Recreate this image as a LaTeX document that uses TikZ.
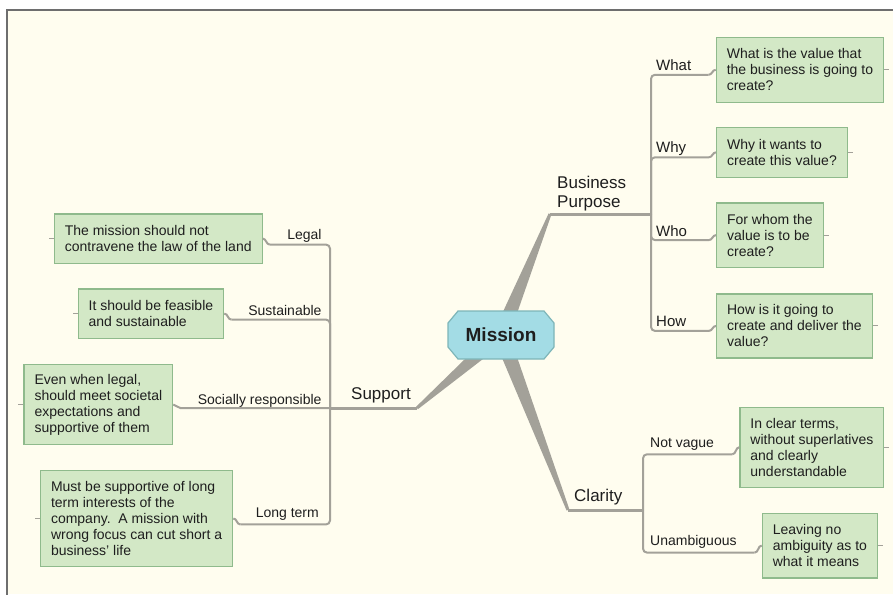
\documentclass[tikz,border=0pt]{standalone}
\usepackage{fontspec}
\setmainfont{Liberation Sans}
\usetikzlibrary{calc}
\definecolor{paper}{HTML}{FFFDEF}
\definecolor{framec}{HTML}{6E6E6E}
\definecolor{branchc}{HTML}{A3A199}
\definecolor{leaffill}{HTML}{D3E8C6}
\definecolor{leafline}{HTML}{8FBA8C}
\definecolor{corefill}{HTML}{A3DCE5}
\definecolor{coreline}{HTML}{7DB5B8}
\definecolor{ink}{HTML}{1E1E1E}
\begin{document}
\begin{tikzpicture}[x=1pt,y=-1pt,
  leaf/.style={draw=leafline, fill=leaffill, line width=1.2pt, text=ink,
    align=left, inner xsep=10.5pt, inner ysep=0pt,
    font=\fontsize{14}{16}\selectfont},
  coreshape/.style={draw=coreline, fill=corefill, line width=1.2pt},
  coretext/.style={inner sep=0pt, text=ink, font=\fontsize{19}{22}\selectfont\bfseries},
  mainlabel/.style={inner sep=0pt, text=ink, align=left,
    font=\fontsize{17}{20}\selectfont},
  sublabel/.style={inner sep=0pt, text=ink, font=\fontsize{14}{16}\selectfont},
  qlabel/.style={inner sep=0pt, text=ink, font=\fontsize{15}{17}\selectfont},
  trunk/.style={draw=branchc, line width=3pt},
  twig/.style={draw=branchc, line width=2pt, rounded corners=4pt},
  hop/.style={draw=branchc, line width=2pt},
  stub/.style={draw=branchc, line width=1pt},
  taper/.style={fill=branchc}]

\useasboundingbox (0,0) rectangle (893,594);
% canvas and frame
\fill[white] (0,0) rectangle (893,594);
\fill[paper] (7,10) rectangle (893,594);
\draw[framec, line width=1.6pt] (7,600) -- (7,10) -- (900,10);

% hub and branch ends
\coordinate (mc) at (501,335);
\coordinate (bpEnd) at (550,214);
\coordinate (bpJ) at (651,214);
\coordinate (supEnd) at (417,408);
\coordinate (supJ) at (330,408);
\coordinate (clEnd) at (568,510);
\coordinate (clJ) at (643,510);

% tapered main branches
\foreach \e in {bpEnd,supEnd,clEnd}{
  \fill[taper] ($(mc)!8pt!90:(\e)$) -- ($(\e)!1.5pt!-90:(mc)$)
    -- ($(\e)!1.5pt!90:(mc)$) -- ($(mc)!8pt!-90:(\e)$) -- cycle;
}
\draw[trunk] (bpEnd) -- (bpJ);
\draw[trunk] (supEnd) -- (supJ);
\draw[trunk] (clEnd) -- (clJ);

% central topic: octagonal badge
\path[coreshape] ($(mc)+(-43,-24)$) -- ($(mc)+(43,-24)$) -- ($(mc)+(53,-12)$)
  -- ($(mc)+(53,12)$) -- ($(mc)+(43,24)$) -- ($(mc)+(-43,24)$)
  -- ($(mc)+(-53,12)$) -- ($(mc)+(-53,-12)$) -- cycle;
\node[coretext] (mission) at (mc) {Mission};

% main branch labels
\node[mainlabel, anchor=west] (bp) at (557,194) {Business\\[-1pt]Purpose};
\node[mainlabel, anchor=west] (support) at (351,395) {Support};
\node[mainlabel, anchor=west] (clarity) at (574,497) {Clarity};

% Business Purpose leaves
\node[leaf, anchor=north west, minimum height=65pt] (bwhat) at (715.7,36.7)
  {What is the value that\\the business is going to\\create?};
\node[leaf, anchor=north west, minimum height=50pt] (bwhy) at (716,126.7)
  {Why it wants to\\create this value?};
\node[leaf, anchor=north west, minimum height=64.4pt] (bwho) at (716,202.3)
  {For whom the\\value is to be\\create?};
\node[leaf, anchor=north west, minimum height=64pt] (bhow) at (716,293.3)
  {How is it going to\\create and deliver the\\value?};

\node[qlabel, anchor=west] (lwhat) at (656,65) {What};
\node[qlabel, anchor=west] (lwhy) at (656,148.3) {Why};
\node[qlabel, anchor=west] (lwho) at (656,231) {Who};
\node[qlabel, anchor=west] (lhow) at (656,321.7) {How};

\foreach \b in {bwhat,bwhy,bwho,bhow}{
  \coordinate (p) at ([xshift=-7pt,yshift=-5pt]\b.west);
  \draw[twig] (bpJ) |- (p);
  \draw[hop] (p) to[out=0,in=180] (\b.west);
  \draw[stub] (\b.east) -- ++(5,0);
}

% Clarity leaves
\node[leaf, anchor=north west, minimum height=80pt] (bnv) at (739.3,406.7)
  {In clear terms,\\without superlatives\\and clearly\\understandable};
\node[leaf, anchor=north west, minimum height=64.6pt] (bun) at (761.7,512.7)
  {Leaving no\\ambiguity as to\\what it means};
\node[sublabel, anchor=west] (lnv) at (650,444) {Not vague};
\node[sublabel, anchor=west] (lun) at (650,542.3) {Unambiguous};
\foreach \b in {bnv,bun}{
  \coordinate (p) at ([xshift=-7pt,yshift=-7pt]\b.west);
  \draw[twig] (clJ) |- (p);
  \draw[hop] (p) to[out=0,in=180] (\b.west);
  \draw[stub] (\b.east) -- ++(5,0);
}

% Support leaves
\node[leaf, anchor=north east, minimum height=49.4pt] (blegal) at (262.7,213.3)
  {The mission should not\\contravene the law of the land};
\node[leaf, anchor=north east, minimum height=49.4pt] (bsus) at (224.3,288.3)
  {It should be feasible\\and sustainable};
\node[leaf, anchor=north east, minimum height=80pt] (bsoc) at (173.3,364)
  {Even when legal,\\should meet societal\\expectations and\\supportive of them};
\node[leaf, anchor=north east, minimum height=95.7pt] (blong) at (233.3,470)
  {Must be supportive of long\\term interests of the\\company.\ \ A mission with\\wrong focus can cut short a\\business’ life};

\node[sublabel, anchor=east] (llegal) at (321.7,235.7) {Legal};
\node[sublabel, anchor=east] (lsus) at (321.7,310) {Sustainable};
\node[sublabel, anchor=east] (lsoc) at (321.7,401) {Socially responsible};
\node[sublabel, anchor=east] (llong) at (319,514.3) {Long term};

\foreach \b in {blegal,bsus,blong}{
  \coordinate (p) at ([xshift=7pt,yshift=-6pt]\b.east);
  \draw[twig] (supJ) |- (p);
  \draw[hop] (p) to[out=180,in=0] (\b.east);
}
\coordinate (p) at ([xshift=7pt]bsoc.east |- supJ);
\draw[hop] (supJ) -- (p) to[out=180,in=0] (bsoc.east);
\foreach \b in {blegal,bsus,bsoc,blong}{
  \draw[stub] (\b.west) -- ++(-5,0);
}
\end{tikzpicture}
\end{document}
